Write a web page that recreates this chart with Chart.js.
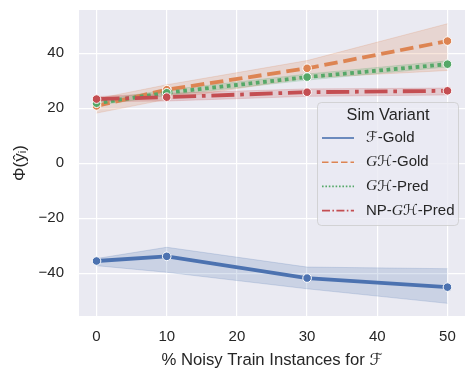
<!DOCTYPE html>
<html>
<head>
<meta charset="utf-8">
<script src="https://cdn.jsdelivr.net/npm/chart.js@4"></script>
<style>
  html, body { margin: 0; padding: 0; background: #fff; }
  #wrap { width: 475px; height: 380px; }
</style>
</head>
<body>
<div id="wrap"><canvas id="chart" width="475" height="380"></canvas></div>
<script>
const noise = [0, 10, 30, 50];
const xTicks = [0, 10, 20, 30, 40, 50];
const yTicks = [-40, -20, 0, 20, 40];

const fGold = [-35.6, -33.9, -41.8, -45.1];
const fGoldLo = [-37.3, -39.7, -45.7, -51.0];
const fGoldHi = [-34.7, -30.6, -37.8, -38.4];

const ghGold = [20.8, 26.7, 34.5, 44.4];
const ghGoldLo = [18.2, 23.2, 31.0, 33.7];
const ghGoldHi = [23.4, 28.5, 37.3, 50.7];

const ghPred = [21.8, 25.6, 31.3, 36.0];
const ghPredLo = [21.0, 24.6, 30.2, 35.0];
const ghPredHi = [22.8, 26.6, 32.4, 37.2];

const npPred = [23.3, 24.0, 25.8, 26.3];
const npPredLo = [22.4, 22.6, 24.3, 24.8];
const npPredHi = [24.2, 25.4, 27.0, 27.3];

const FONT = "'Liberation Sans', 'DejaVu Sans', Arial, sans-serif";
const SCRIPT = "'Liberation Serif', 'DejaVu Serif', serif";
const TEXT = '#262626';

function pts(vals) {
    return vals.map((v, i) => ({x: noise[i], y: v}));
}

// legend labels split in parts; 'g' parts get the italic serif face (stand-in for calligraphic G)
const series = [
    {label: [['ℱ-Gold', 0]], mean: fGold, lo: fGoldLo, hi: fGoldHi, color: '76,114,176', dash: [], legDash: []},
    {label: [['G', 1], ['ℋ-Gold', 0]], mean: ghGold, lo: ghGoldLo, hi: ghGoldHi, color: '221,132,82', dash: [13.5, 5.8], legDash: [6.5, 3]},
    {label: [['G', 1], ['ℋ-Pred', 0]], mean: ghPred, lo: ghPredLo, hi: ghPredHi, color: '85,168,104', dash: [3.7, 3.6], legDash: [1.6, 1.8]},
    {label: [['NP-', 0], ['G', 1], ['ℋ-Pred', 0]], mean: npPred, lo: npPredLo, hi: npPredHi, color: '196,78,82', dash: [23, 5.8, 3.7, 5.8], legDash: [8, 2.4, 1.6, 2.4]}
];

let datasets = [];
series.forEach((s, i) => {
    datasets.push({
        data: pts(s.lo),
        borderColor: 'rgba(' + s.color + ',0.2)',
        borderWidth: 1,
        pointRadius: 0,
        fill: false,
        order: 20 - i
    });
    datasets.push({
        data: pts(s.hi),
        borderColor: 'rgba(' + s.color + ',0.2)',
        backgroundColor: 'rgba(' + s.color + ',0.2)',
        borderWidth: 1,
        pointRadius: 0,
        fill: '-1',
        order: 20 - i
    });
});
series.forEach((s, i) => {
    datasets.push({
        data: pts(s.mean),
        borderColor: 'rgb(' + s.color + ')',
        backgroundColor: 'rgb(' + s.color + ')',
        borderWidth: 3.8,
        borderDash: s.dash,
        pointRadius: 4.3,
        pointBorderColor: '#fff',
        pointBorderWidth: 1,
        fill: false,
        order: 4 - i
    });
});

const bgPlugin = {
    id: 'bg',
    beforeDraw(chart) {
        const a = chart.chartArea;
        const ctx = chart.ctx;
        ctx.save();
        ctx.fillStyle = '#eaeaf2';
        ctx.fillRect(a.left, a.top, a.right - a.left, a.bottom - a.top);
        ctx.restore();
    }
};

const legendPlugin = {
    id: 'simLegend',
    afterDraw(chart) {
        const ctx = chart.ctx;
        const x0 = 317, y0 = 102, w = 141, h = 123, r = 4;
        ctx.save();
        ctx.beginPath();
        ctx.roundRect(x0 + 0.5, y0 + 0.5, w, h, r);
        ctx.fillStyle = 'rgba(234,234,242,0.8)';
        ctx.fill();
        ctx.strokeStyle = 'rgba(204,204,204,0.8)';
        ctx.lineWidth = 1;
        ctx.stroke();

        ctx.fillStyle = TEXT;
        ctx.textBaseline = 'middle';
        ctx.textAlign = 'center';
        ctx.font = '16.3px ' + FONT;
        ctx.fillText('Sim Variant', x0 + w / 2 + 0.5, 115.5);

        ctx.textAlign = 'left';
        series.forEach((s, i) => {
            const y = 138 + i * 24.2;
            ctx.beginPath();
            ctx.setLineDash(s.legDash);
            ctx.strokeStyle = 'rgb(' + s.color + ')';
            ctx.lineWidth = 1.6;
            ctx.moveTo(322, y);
            ctx.lineTo(354, y);
            ctx.stroke();
            ctx.setLineDash([]);
            let x = 366;
            s.label.forEach(([t, g]) => {
                ctx.font = g ? 'italic 15.5px ' + SCRIPT : '15px ' + FONT;
                ctx.fillText(t, x, y);
                x += ctx.measureText(t).width;
            });
        });
        ctx.restore();
    }
};

new Chart(document.getElementById('chart'), {
    type: 'line',
    data: {datasets: datasets},
    options: {
        responsive: false,
        animation: false,
        layout: {padding: {left: 0, top: 10, right: 10, bottom: 0}},
        plugins: {legend: {display: false}, tooltip: {enabled: false}},
        scales: {
            x: {
                type: 'linear',
                min: -2.5,
                max: 52.5,
                afterBuildTicks: (scale) => { scale.ticks = xTicks.map(v => ({value: v})); },
                afterFit: (scale) => { scale.height = 64; scale.paddingLeft = 0; scale.paddingRight = 0; },
                grid: {color: '#ffffff', lineWidth: 1.2, drawTicks: false},
                border: {display: false},
                ticks: {color: TEXT, padding: 11.5, font: {family: FONT, size: 15}},
                title: {display: true, text: '% Noisy Train Instances for ℱ', color: TEXT,
                        font: {family: FONT, size: 16.7}, padding: {top: 0, bottom: 10}}
            },
            y: {
                min: -55.6,
                max: 55.7,
                afterBuildTicks: (scale) => { scale.ticks = yTicks.map(v => ({value: v})); },
                afterFit: (scale) => { scale.width = 79; scale.paddingTop = 0; scale.paddingBottom = 0; },
                grid: {color: '#ffffff', lineWidth: 1.2, drawTicks: false},
                border: {display: false},
                ticks: {color: TEXT, padding: 15, font: {family: FONT, size: 15},
                        callback: (v) => v < 0 ? '\u2212' + Math.abs(v) : String(v)},
                title: {display: true, text: 'Φ(ŷᵢ)', color: TEXT,
                        font: {family: FONT, size: 17}, padding: {top: 10, bottom: 0}}
            }
        }
    },
    plugins: [bgPlugin, legendPlugin]
});
</script>
</body>
</html>
